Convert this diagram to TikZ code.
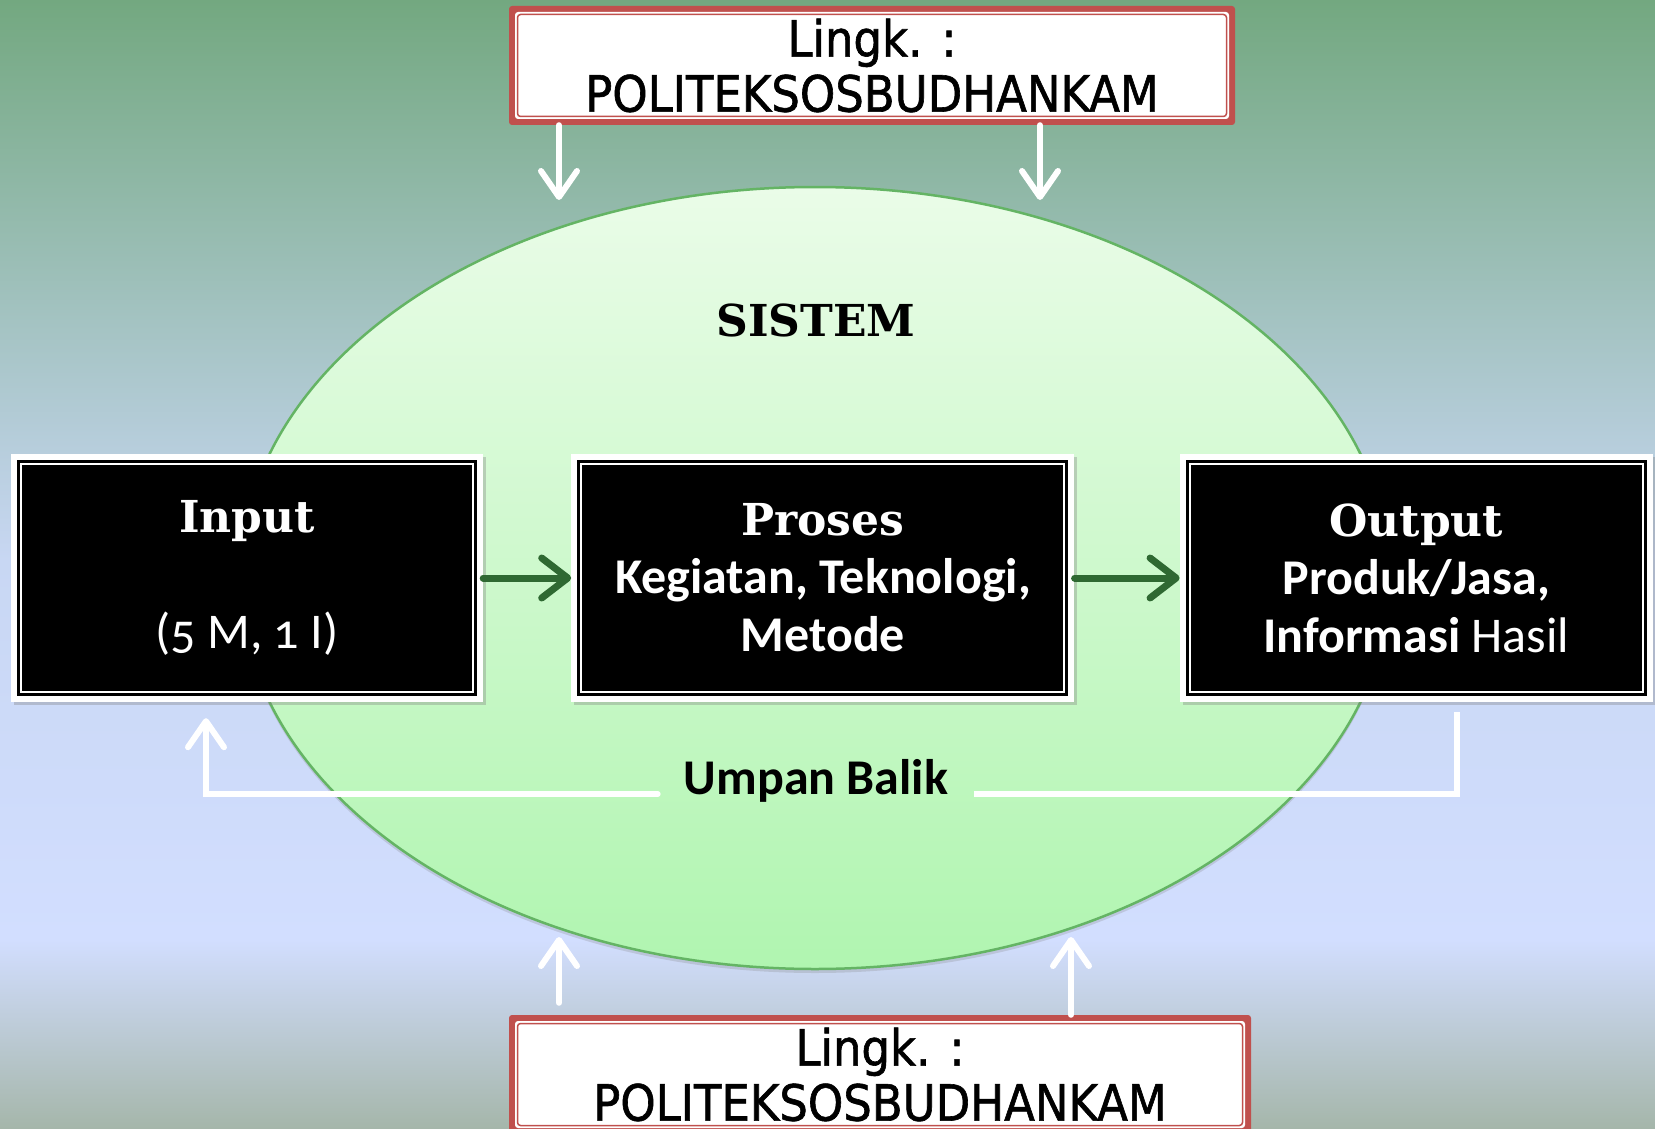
\documentclass[tikz,border=0pt]{standalone}
\usepackage{fontspec}
\usepackage{xcolor}
\usetikzlibrary{positioning, arrows.meta, shadows, calc, shapes.geometric}
\newfontfamily\bodyfont{Carlito}[Numbers=OldStyle]
\newfontfamily\headfont{DejaVu Serif}
\newfontfamily\envfont{DejaVu Sans Condensed}[FakeBold=1.2]
\definecolor{bgtop}{RGB}{115,168,128}
\definecolor{bgmid}{RGB}{200,215,243}
\definecolor{bglow}{RGB}{210,222,255}
\definecolor{bgbot}{RGB}{165,182,170}
\definecolor{envred}{RGB}{192,80,77}
\definecolor{flowgreen}{RGB}{47,105,50}
\definecolor{systop}{RGB}{234,252,232}
\definecolor{sysbot}{RGB}{176,245,176}
\definecolor{sysedge}{RGB}{100,180,100}
\tikzstyle{blockbox} = [rectangle, fill=white, minimum height=248pt, inner sep=0pt, align=center, text=white,
  font=\bodyfont\bfseries\fontsize{50}{58}\selectfont,
  drop shadow={opacity=0.35, shadow xshift=3pt, shadow yshift=-3pt},
  path picture={
    \fill[black] ($(path picture bounding box.south west)+(6pt,6pt)$) rectangle ($(path picture bounding box.north east)+(-6pt,-6pt)$);
    \draw[white, line width=2pt] ($(path picture bounding box.south west)+(10pt,10pt)$) rectangle ($(path picture bounding box.north east)+(-10pt,-10pt)$);
  }]
\tikzstyle{envbox} = [rectangle, fill=envred, rounded corners=3pt, minimum height=119pt, inner sep=0pt, align=center,
  font=\envfont\fontsize{50}{55}\selectfont,
  path picture={
    \fill[white] ($(path picture bounding box.south west)+(6pt,6pt)$) rectangle ($(path picture bounding box.north east)+(-6pt,-6pt)$);
    \draw[envred, line width=1.5pt] ($(path picture bounding box.south west)+(8.5pt,8.5pt)$) rectangle ($(path picture bounding box.north east)+(-8.5pt,-8.5pt)$);
  }]
\tikzstyle{sysellipse} = [ellipse, draw=sysedge, line width=2.5pt, top color=systop, bottom color=sysbot,
  minimum width=1150pt, minimum height=782pt, inner sep=0pt,
  drop shadow={opacity=0.25, shadow xshift=0pt, shadow yshift=-4pt}]
\tikzstyle{headtext} = [font=\headfont\bfseries\fontsize{44}{58}\selectfont]
\tikzstyle{flowarrow} = [-{Straight Barb[length=26pt,width=40pt,round]}, line width=7pt, draw=flowgreen, line cap=round]
\tikzstyle{envarrow} = [-{Straight Barb[length=26pt,width=36pt,round]}, line width=6pt, draw=white, line cap=round]
\tikzstyle{fbline} = [line width=6pt, draw=white]
\newcommand{\headline}[1]{{\headfont\bfseries\fontsize{44}{58}\selectfont #1}}

\begin{document}
\begin{tikzpicture}[x=1pt, y=-1pt]
\useasboundingbox (0,0) rectangle (1655,1129);
\clip (0,0) rectangle (1655,1129);

% background
\shade[top color=bgtop, bottom color=bgmid] (0,0) rectangle (1655,560);
\shade[top color=bgmid, bottom color=bglow] (0,559) rectangle (1655,940);
\shade[top color=bglow, bottom color=bgbot] (0,939) rectangle (1655,1129);

\node[sysellipse] (sistem) at (815,578) {};
\node[headtext] (judul) at (816,320) {SISTEM};

\node[blockbox, minimum width=472pt] (input) at (247,578) {\headline{Input}\\[58pt]\mdseries(5 M, 1 I)};
\node[blockbox, minimum width=503pt, right=88pt of input] (proses) {\headline{Proses}\\Kegiatan, Teknologi,\\Metode};
\node[blockbox, minimum width=473pt, right=105pt of proses] (output) {\headline{Output}\\Produk/Jasa,\\Informasi {\mdseries Hasil}};

\draw[flowarrow] (input) -- (proses);
\draw[flowarrow] (proses) -- (output);

% umpan balik
\coordinate (fbR) at (1457,794);
\coordinate (fbL) at (206,794);
\node[font=\bodyfont\bfseries\fontsize{50}{58}\selectfont, inner xsep=26pt] (umpan) at (816,781) {Umpan Balik};
\draw[fbline, shorten <=10pt] (output.south -| fbR) -- (fbR) -- (umpan.east |- fbR);
\draw[fbline, -{Straight Barb[length=26pt,width=36pt,round]}, line cap=round, shorten >=16pt] (umpan.west |- fbL) -- (fbL) -- (input.south -| fbL);

% lingkungan
\node[envbox, minimum width=726pt] (lingkA) at (872,65.5) {Lingk. :\\POLITEKSOSBUDHANKAM};
\node[envbox, minimum width=742pt] (lingkB) at (880,1074.5) {Lingk. :\\POLITEKSOSBUDHANKAM};

\coordinate (tA1) at (559,200);
\coordinate (tA2) at (1040,200);
\coordinate (tB1) at (559,937);
\coordinate (tB2) at (1071,937);
\draw[envarrow] (lingkA.south -| tA1) -- (tA1);
\draw[envarrow] (lingkA.south -| tA2) -- (tA2);
\draw[envarrow, shorten <=12pt] (lingkB.north -| tB1) -- (tB1);
\draw[envarrow] (lingkB.north -| tB2) -- (tB2);
\end{tikzpicture}
\end{document}
